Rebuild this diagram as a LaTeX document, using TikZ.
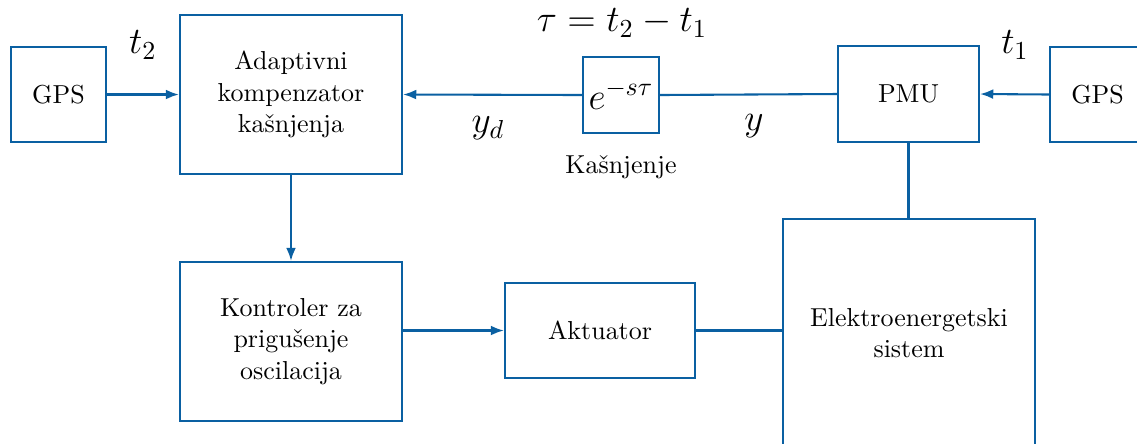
\documentclass[tikz,border=0pt]{standalone}
\usepackage{amsmath}
\usetikzlibrary{arrows.meta}
\definecolor{lineblue}{RGB}{10,96,162}
\begin{document}
\begin{tikzpicture}[x=0.385pt,y=-0.385pt,
  blk/.style={draw=lineblue,line width=0.8pt,align=center,inner sep=0pt,font=\normalsize},
  conn/.style={draw=lineblue,line width=0.8pt},
  arr/.style={conn,-{Latex[length=12pt*0.385*1.1,width=9pt*0.385*1.1]}},
  mlab/.style={font=\Large,inner sep=0pt}]
\useasboundingbox (0,0) rectangle (1137,443);
\node[blk,minimum width=95*0.385pt,minimum height=95*0.385pt] (gpsl) at (58.5,94.5) {GPS};
\node[blk,minimum width=222*0.385pt,minimum height=159*0.385pt] (adap) at (291,94.5) {Adaptivni\\kompenzator\\kašnjenja};
\node[blk,minimum width=76*0.385pt,minimum height=76*0.385pt,font=\Large] (del) at (621,95) {$e^{-s\tau}$};
\node[blk,minimum width=141*0.385pt,minimum height=96*0.385pt] (pmu) at (908.5,94) {PMU};
\node[blk,minimum width=95*0.385pt,minimum height=95*0.385pt] (gpsr) at (1097.5,94.5) {GPS};
\node[blk,minimum width=222*0.385pt,minimum height=159*0.385pt] (kon) at (291,341.5) {Kontroler za\\prigušenje\\oscilacija};
\node[blk,minimum width=190*0.385pt,minimum height=95*0.385pt] (akt) at (600,330.5) {Aktuator};
\node[blk,minimum width=252*0.385pt,minimum height=228*0.385pt] (ees) at (909,333) {Elektroenergetski\\sistem};
\node[mlab] (t2) at (143,45) {$t_2$};
\node[mlab] (t1) at (1015,45) {$t_1$};
\node[mlab] (tau) at (622,23) {$\tau = t_2 - t_1$};
\node[mlab] (yd) at (488,128) {$y_d$};
\node[mlab] (yy) at (754,126) {$y$};
\node[font=\normalsize] (kas) at (621,167) {Kašnjenje};
\draw[arr] (gpsl.east) -- (adap.west);
\draw[arr] (gpsr.west) -- (pmu.east);
\draw[conn] (pmu.west) -- (del.east);
\draw[arr] (del.west) -- (adap.east);
\draw[arr] (adap.south) -- (kon.north);
\draw[arr] (kon.east |- akt.west) -- (akt.west);
\draw[conn] (akt.east) -- (akt.east -| ees.west);
\draw[conn] (pmu.south) -- (pmu.south |- ees.north);
\end{tikzpicture}
\end{document}
